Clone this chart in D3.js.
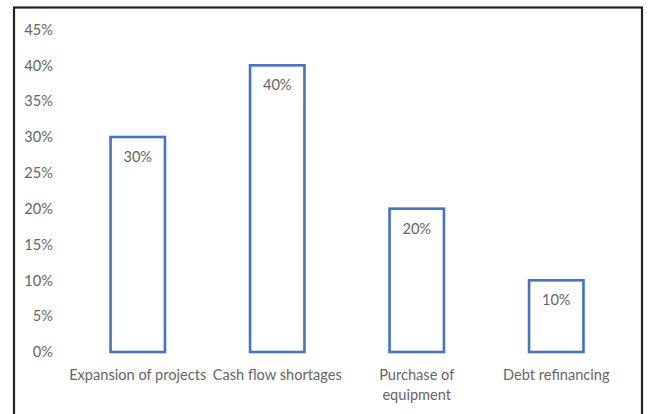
<!DOCTYPE html>
<html>
<head>
<meta charset="utf-8">
<script src="https://cdn.jsdelivr.net/npm/d3@7/dist/d3.min.js"></script>
<style>
  html, body { margin: 0; padding: 0; background: #fff; }
  svg { display: block; }
  text { font-family: Lato, "Open Sans", sans-serif; fill: #666; }
</style>
</head>
<body>
<svg id="chart" width="652" height="414"></svg>
<script>
// Reasons for seeking finance (share of respondents)
const categories = ["Expansion of projects", "Cash flow shortages", "Purchase of equipment", "Debt refinancing"];
const categoryLines = [["Expansion of projects"], ["Cash flow shortages"], ["Purchase of", "equipment"], ["Debt refinancing"]];
const values = [0.30, 0.40, 0.20, 0.10];
const yTicks = [0, 0.05, 0.10, 0.15, 0.20, 0.25, 0.30, 0.35, 0.40, 0.45];

const svg = d3.select("#chart");
const fontSize = "14.6px";

// outer frame
svg.append("rect")
  .attr("x", 14).attr("y", 7.5)
  .attr("width", 628).attr("height", 420)
  .attr("fill", "#fff")
  .attr("stroke", "#222").attr("stroke-width", 2.2);

const x = d3.scaleBand()
  .domain(categories)
  .range([68, 626])
  .paddingInner(0.61)
  .paddingOuter(0.305);

const y = d3.scaleLinear()
  .domain([0, 0.45])
  .range([352, 29.5]);

// y axis labels only
const yAxis = d3.axisLeft(y)
  .tickValues(yTicks)
  .tickFormat(d3.format(".0%"))
  .tickSize(0)
  .tickPadding(0);

const gy = svg.append("g")
  .attr("transform", "translate(53,0)")
  .call(yAxis);
gy.select(".domain").remove();
gy.selectAll("text")
  .style("font-size", fontSize)
  .attr("fill", "#666")
  .style("font-family", "Lato, 'Open Sans', sans-serif");

// bars
svg.append("g").selectAll("rect")
  .data(values)
  .join("rect")
  .attr("x", (d, i) => x(categories[i]))
  .attr("y", d => y(d))
  .attr("width", x.bandwidth())
  .attr("height", d => y(0) - y(d))
  .attr("fill", "#fff")
  .attr("stroke", "#4472C4")
  .attr("stroke-width", 2.6);

// value labels inside bars
svg.append("g").selectAll("text")
  .data(values)
  .join("text")
  .attr("x", (d, i) => x(categories[i]) + x.bandwidth() / 2)
  .attr("y", d => y(d) + 25)
  .attr("text-anchor", "middle")
  .style("font-size", fontSize)
  .text(d => d3.format(".0%")(d));

// category labels
const xl = svg.append("g").selectAll("text")
  .data(categoryLines)
  .join("text")
  .attr("x", (d, i) => x(categories[i]) + x.bandwidth() / 2)
  .attr("y", 380)
  .attr("text-anchor", "middle")
  .style("font-size", fontSize);
xl.selectAll("tspan")
  .data(d => d)
  .join("tspan")
  .attr("x", function () { return d3.select(this.parentNode).attr("x"); })
  .attr("dy", (d, j) => j === 0 ? 0 : 20)
  .text(d => d);
</script>
</body>
</html>
